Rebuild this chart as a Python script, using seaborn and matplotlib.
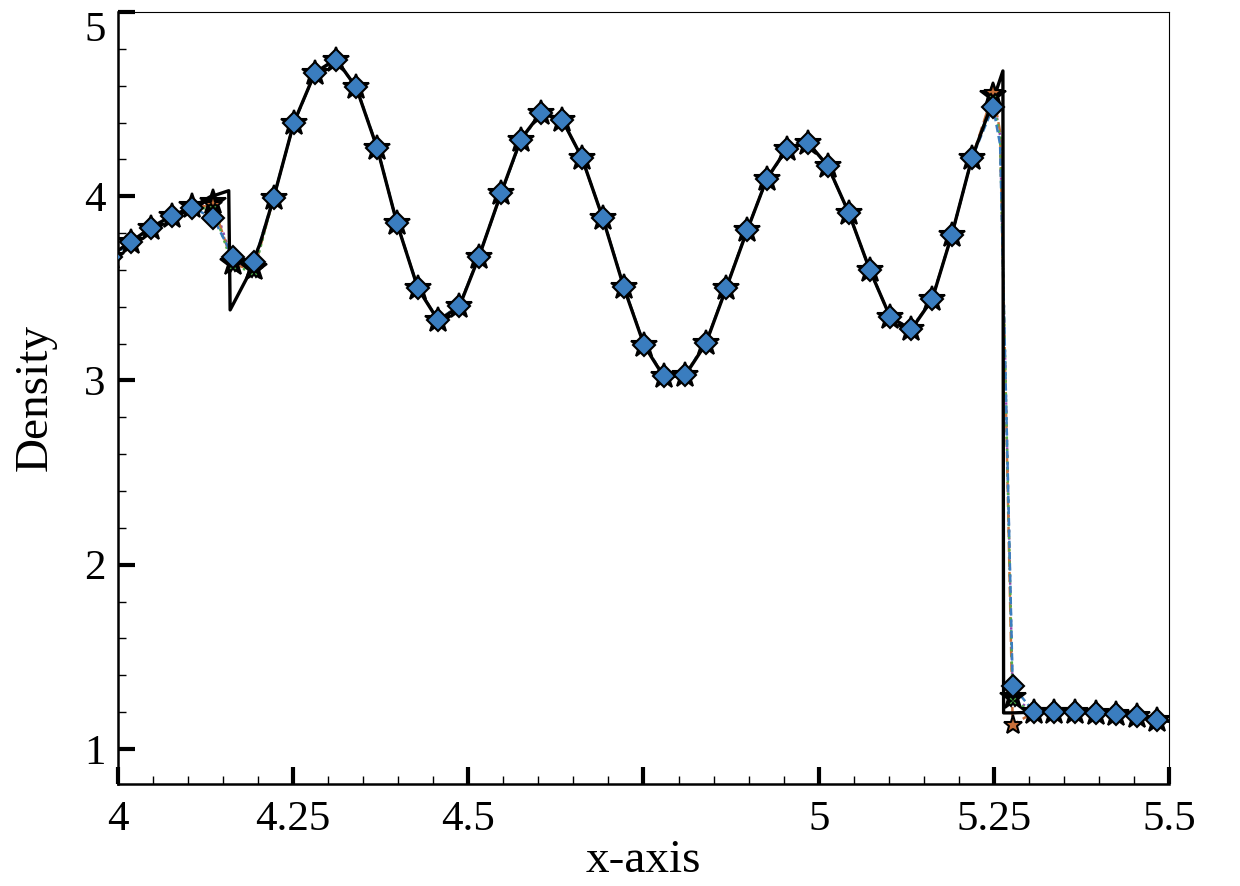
import numpy as np
import pandas as pd
import seaborn as sns
import matplotlib.pyplot as plt
from matplotlib.ticker import MultipleLocator

# sample positions of the numerical solutions (marker positions + one point inside the shock)
x_num = [3.990, 4.019, 4.047, 4.077, 4.106, 4.136, 4.164, 4.194, 4.222, 4.251,
         4.281, 4.311, 4.340, 4.370, 4.398, 4.428, 4.457, 4.487, 4.515, 4.547,
         4.575, 4.604, 4.634, 4.662, 4.692, 4.722, 4.751, 4.779, 4.809, 4.839,
         4.868, 4.898, 4.926, 4.955, 4.985, 5.013, 5.043, 5.073, 5.102, 5.132,
         5.162, 5.190, 5.219, 5.249, 5.259, 5.277, 5.307, 5.336, 5.366, 5.396,
         5.424, 5.454, 5.483]

rho_blue = [3.670, 3.752, 3.828, 3.893, 3.937, 3.882, 3.671, 3.644, 3.991, 4.398,
            4.669, 4.740, 4.593, 4.262, 3.855, 3.502, 3.329, 3.405, 3.671, 4.018,
            4.305, 4.452, 4.414, 4.208, 3.882, 3.508, 3.193, 3.025, 3.030, 3.204,
            3.502, 3.817, 4.094, 4.257, 4.289, 4.164, 3.909, 3.600, 3.345, 3.280,
            3.443, 3.790, 4.208, 4.485, 4.280, 1.343, 1.202, 1.202, 1.202, 1.196,
            1.191, 1.180, 1.158]

rho_orange = [3.670, 3.752, 3.828, 3.893, 3.940, 3.950, 3.630, 3.600, 3.991, 4.398,
              4.669, 4.740, 4.593, 4.262, 3.855, 3.502, 3.329, 3.405, 3.671, 4.018,
              4.305, 4.452, 4.414, 4.208, 3.882, 3.508, 3.193, 3.025, 3.030, 3.204,
              3.502, 3.817, 4.094, 4.257, 4.289, 4.164, 3.909, 3.600, 3.345, 3.280,
              3.443, 3.790, 4.208, 4.560, 4.350, 1.130, 1.200, 1.202, 1.202, 1.196,
              1.191, 1.180, 1.158]

rho_green = [3.670, 3.752, 3.828, 3.893, 3.940, 3.930, 3.620, 3.590, 3.991, 4.398,
             4.669, 4.740, 4.593, 4.262, 3.855, 3.502, 3.329, 3.405, 3.671, 4.018,
             4.305, 4.452, 4.414, 4.208, 3.882, 3.508, 3.193, 3.025, 3.030, 3.204,
             3.502, 3.817, 4.094, 4.257, 4.289, 4.164, 3.909, 3.600, 3.345, 3.280,
             3.443, 3.790, 4.208, 4.530, 4.320, 1.260, 1.202, 1.202, 1.202, 1.196,
             1.191, 1.180, 1.158]

rho_purple = [3.670, 3.752, 3.828, 3.893, 3.945, 3.970, 3.640, 3.610, 3.991, 4.398,
              4.669, 4.740, 4.593, 4.262, 3.855, 3.502, 3.329, 3.405, 3.671, 4.018,
              4.305, 4.452, 4.414, 4.208, 3.882, 3.508, 3.193, 3.025, 3.030, 3.204,
              3.502, 3.817, 4.094, 4.257, 4.289, 4.164, 3.909, 3.600, 3.345, 3.280,
              3.443, 3.790, 4.208, 4.550, 4.330, 1.280, 1.202, 1.202, 1.202, 1.196,
              1.191, 1.180, 1.158]

# reference (fine grid) solution
x_ref = [3.990, 4.019, 4.047, 4.077, 4.106, 4.131, 4.158, 4.160, 4.184, 4.203,
         4.222, 4.251, 4.281, 4.311, 4.340, 4.370, 4.398, 4.428, 4.457, 4.487,
         4.515, 4.547, 4.575, 4.604, 4.634, 4.662, 4.692, 4.722, 4.751, 4.779,
         4.809, 4.839, 4.868, 4.898, 4.926, 4.955, 4.985, 5.013, 5.043, 5.073,
         5.102, 5.132, 5.162, 5.190, 5.219, 5.249, 5.263, 5.264, 5.277, 5.307,
         5.336, 5.366, 5.396, 5.424, 5.454, 5.483, 5.500]
rho_ref = [3.680, 3.755, 3.830, 3.895, 3.940, 3.996, 4.030, 3.383, 3.557, 3.747,
           3.990, 4.400, 4.670, 4.745, 4.590, 4.260, 3.855, 3.500, 3.325, 3.400,
           3.670, 4.020, 4.310, 4.455, 4.415, 4.210, 3.880, 3.505, 3.190, 3.020,
           3.025, 3.200, 3.500, 3.815, 4.095, 4.260, 4.290, 4.165, 3.910, 3.600,
           3.345, 3.275, 3.440, 3.790, 4.210, 4.520, 4.680, 1.196, 1.196, 1.200,
           1.200, 1.200, 1.195, 1.190, 1.180, 1.160, 1.150]

x_ticks = [4, 4.25, 4.5, 4.75, 5, 5.25, 5.5]
x_tick_labels = ['4', '4.25', '4.5', '', '5', '5.25', '5.5']
y_ticks = [1, 2, 3, 4, 5]

# every sample gets a marker except the one inside the right shock
marker_idx = [i for i in range(len(x_num)) if i != 44]

sns.set_style('ticks')
plt.rcParams['font.family'] = ['Liberation Serif', 'DejaVu Serif']
plt.rcParams['mathtext.fontset'] = 'dejavuserif'
plt.rcParams['text.color'] = 'black'
plt.rcParams['axes.labelcolor'] = 'black'
plt.rcParams['axes.edgecolor'] = 'black'
plt.rcParams['xtick.color'] = 'black'
plt.rcParams['ytick.color'] = 'black'

fig = plt.figure(figsize=(12.4, 8.86), dpi=100)
ax = fig.add_axes([0.0952, 0.1151, 0.8475, 0.8714])

series = [
    (rho_purple, '#8e44ad', (0, (1, 2)), '*', 'black', 19, 3),
    (rho_orange, '#c8703a', (0, (4, 2)), '*', '#c8703a', 14, 4),
    (rho_green, '#4daf4a', (0, (1, 1.5)), 'X', '#4daf4a', 7, 5),
    (rho_blue, '#3a7dbf', (0, (3, 1.5)), 'D', '#3a7dbf', 11.5, 6),
]

# thin dotted lines of the numerical solutions
for rho, col, ls, mk, fc, ms, z in series:
    sns.lineplot(x=x_num, y=rho, ax=ax, sort=False, estimator=None,
                 color=col, linestyle=ls, linewidth=1.8, zorder=2)

# reference solution
sns.lineplot(x=x_ref, y=rho_ref, ax=ax, sort=False, estimator=None,
             color='black', linewidth=2.4, zorder=2.5)

# markers on top
for rho, col, ls, mk, fc, ms, z in series:
    sns.lineplot(x=x_num, y=rho, ax=ax, sort=False, estimator=None,
                 linestyle='', marker=mk, markevery=marker_idx,
                 markersize=ms, markerfacecolor=fc, markeredgecolor='black',
                 markeredgewidth=1.5, color=col, zorder=z)

ax.set_xlim(4, 5.5)
ax.set_ylim(0.81, 5.0)
ax.set_xticks(x_ticks)
ax.set_xticklabels(x_tick_labels)
ax.set_yticks(y_ticks)
ax.xaxis.set_minor_locator(MultipleLocator(0.05))
ax.yaxis.set_minor_locator(MultipleLocator(0.2))
ax.tick_params(which='major', direction='in', length=12, width=3,
               labelsize=31, pad=9)
ax.tick_params(which='minor', direction='in', length=6, width=1)
ax.tick_params(axis='x', pad=12)

# keep the top label inside the figure
ax.get_yticklabels()[-1].set_verticalalignment('top')

for side in ['left', 'bottom']:
    ax.spines[side].set_linewidth(1.8)
for side in ['right', 'top']:
    ax.spines[side].set_linewidth(0.8)

ax.set_xlabel('x-axis', fontsize=34, labelpad=0)
ax.set_ylabel('Density', fontsize=34, labelpad=20)

fig.savefig('out.png', dpi=100)
